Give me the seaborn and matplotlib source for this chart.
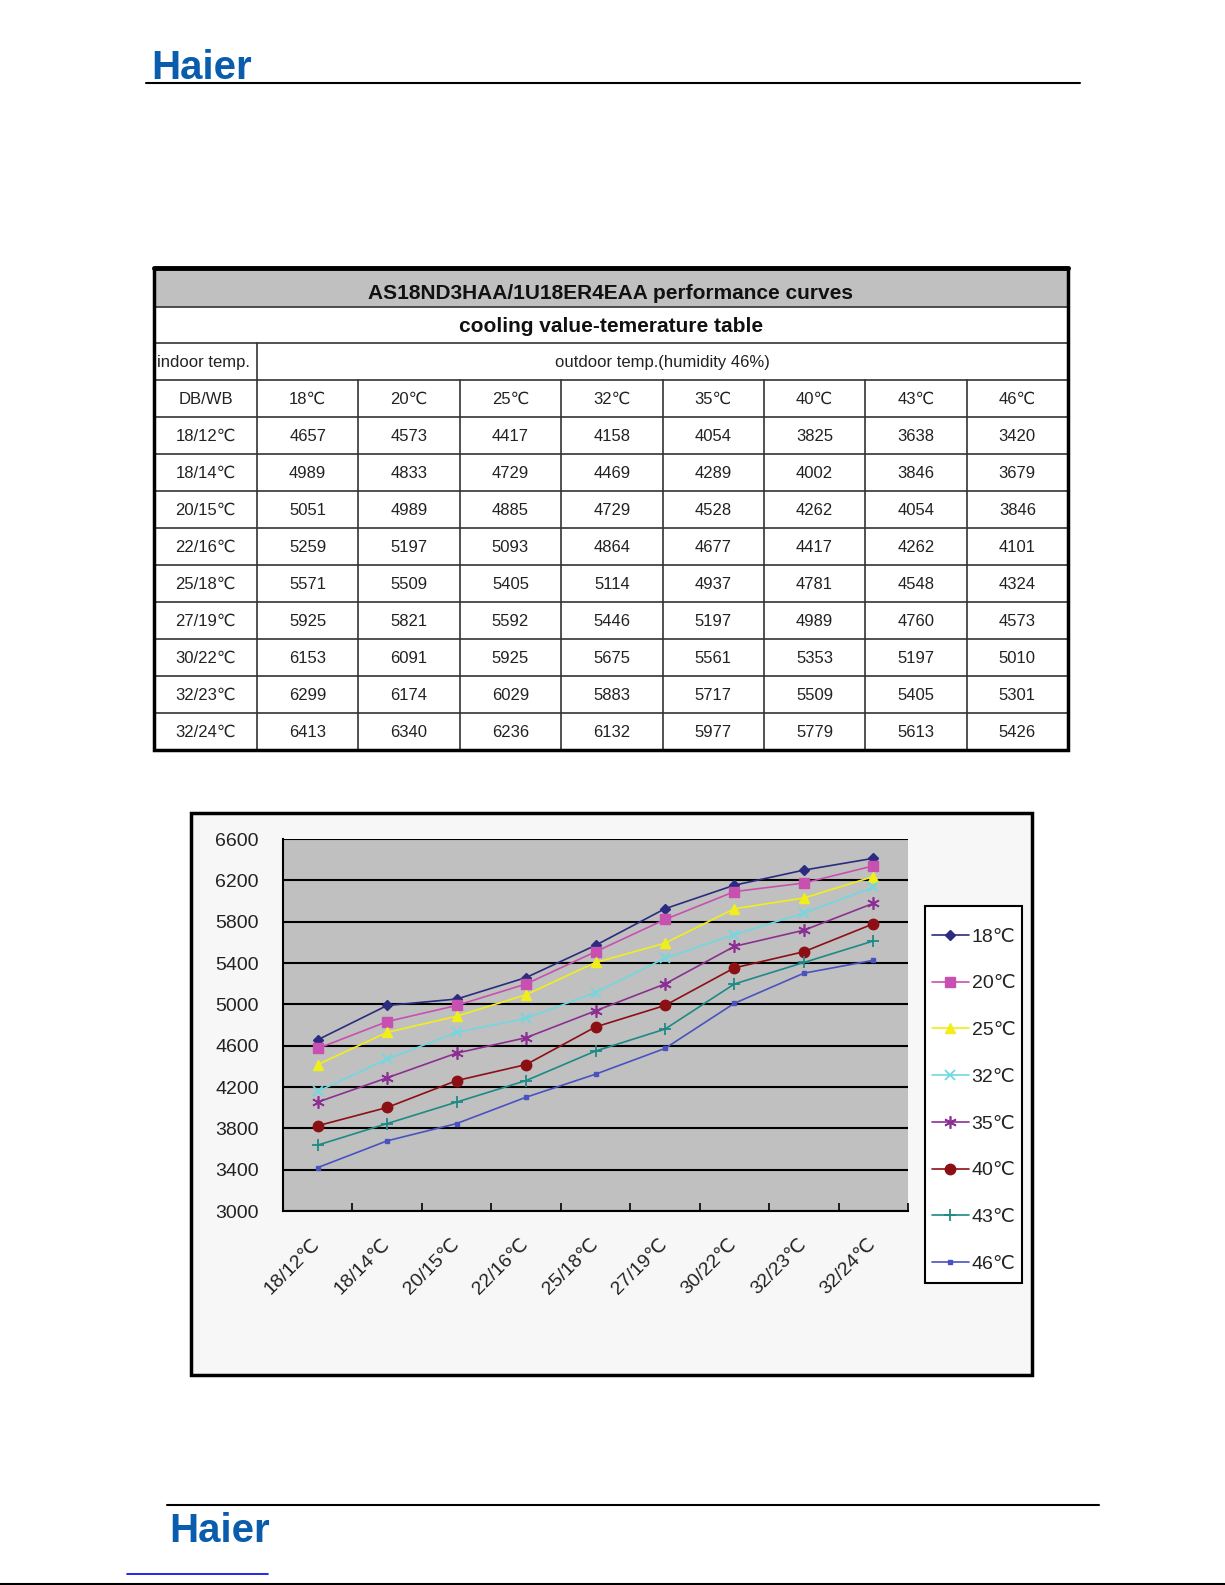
import matplotlib
matplotlib.use("Agg")
import matplotlib.pyplot as plt
import numpy as np
import pandas as pd
import seaborn as sns
from matplotlib.lines import Line2D
from matplotlib.patches import Rectangle

# ---------------- data ----------------
indoor = ['18/12℃', '18/14℃', '20/15℃', '22/16℃', '25/18℃',
          '27/19℃', '30/22℃', '32/23℃', '32/24℃']
outdoor = ['18℃', '20℃', '25℃', '32℃', '35℃', '40℃', '43℃', '46℃']
cap_18 = [4657, 4989, 5051, 5259, 5571, 5925, 6153, 6299, 6413]
cap_20 = [4573, 4833, 4989, 5197, 5509, 5821, 6091, 6174, 6340]
cap_25 = [4417, 4729, 4885, 5093, 5405, 5592, 5925, 6029, 6236]
cap_32 = [4158, 4469, 4729, 4864, 5114, 5446, 5675, 5883, 6132]
cap_35 = [4054, 4289, 4528, 4677, 4937, 5197, 5561, 5717, 5977]
cap_40 = [3825, 4002, 4262, 4417, 4781, 4989, 5353, 5509, 5779]
cap_43 = [3638, 3846, 4054, 4262, 4548, 4760, 5197, 5405, 5613]
cap_46 = [3420, 3679, 3846, 4101, 4324, 4573, 5010, 5301, 5426]
y_ticks = [3000, 3400, 3800, 4200, 4600, 5000, 5400, 5800, 6200, 6600]

table_title = 'AS18ND3HAA/1U18ER4EAA performance curves'
table_subtitle = 'cooling value-temerature table'
indoor_head = 'indoor temp.'
outdoor_head = 'outdoor temp.(humidity 46%)'
dbwb_head = 'DB/WB'
logo_text = 'Haier'

series = [cap_18, cap_20, cap_25, cap_32, cap_35, cap_40, cap_43, cap_46]

# ---------------- styles ----------------
colors = ['#2b2b80', '#c850b0', '#f2ee1a', '#70d8e0',
          '#8c2f92', '#8c0f14', '#1d8a86', '#4a52c0']
markers = ['D', 's', '^', 'x', (6, 2, 0), 'o', '+', 's']
msizes = [5.5, 7, 7.5, 7, 9, 7.5, 8, 3]
mews = [1, 1, 1, 1.3, 1.2, 1, 1.3, 1]

sns.set_theme(style='white')
plt.rcParams['font.family'] = ['Liberation Sans', 'DejaVu Sans']

W, H = 1225, 1585
fig = plt.figure(figsize=(W / 100, H / 100), dpi=100)
fig.patch.set_facecolor('white')

# page layer in pixel coordinates
pg = fig.add_axes([0, 0, 1, 1])
pg.set_xlim(0, W)
pg.set_ylim(H, 0)
pg.axis('off')

BLUE = '#0a5cac'
TXT = '#222222'

# header / footer
pg.text(151, 79, logo_text, color=BLUE, fontsize=29, fontweight='bold',
        va='baseline', ha='left')
pg.plot([146, 1080], [83, 83], color='black', lw=1.5)
pg.plot([167, 1099], [1505, 1505], color='black', lw=1.5)
pg.text(169, 1542, logo_text, color=BLUE, fontsize=29, fontweight='bold',
        va='baseline', ha='left')
pg.plot([127, 268], [1574, 1574], color='#0000ee', lw=1.2)
pg.plot([0, W], [1584, 1584], color='black', lw=1.5)

# ---------------- table ----------------
tx0, tx1 = 154, 1068
c1 = 257
ncol = len(outdoor)
cw = (tx1 - c1) / ncol
col_edges = [tx0, c1] + [c1 + cw * (j + 1) for j in range(ncol)]
rh = 37
row_edges = [268, 307, 343, 380] + [380 + rh * (i + 1) for i in range(len(indoor) + 1)]
ty1 = row_edges[-1]

pg.add_patch(Rectangle((tx0, row_edges[0]), tx1 - tx0, row_edges[1] - row_edges[0],
                       facecolor='#c0c0c0', edgecolor='none', zorder=1))
for y in row_edges[1:-1]:
    pg.plot([tx0, tx1], [y, y], color='#333333', lw=1.2, zorder=2)
pg.plot([c1, c1], [row_edges[2], ty1], color='#333333', lw=1.2, zorder=2)
for x in col_edges[2:-1]:
    pg.plot([x, x], [row_edges[3], ty1], color='#333333', lw=1.2, zorder=2)
pg.add_patch(Rectangle((tx0, row_edges[0]), tx1 - tx0, ty1 - row_edges[0],
                       facecolor='none', edgecolor='black', lw=2.5, zorder=3))
pg.plot([tx0, tx1], [row_edges[0], row_edges[0]], color='black', lw=3.5, zorder=3)

def rc(i):
    return (row_edges[i] + row_edges[i + 1]) / 2 + 1

pg.text((tx0 + tx1) / 2, rc(0) + 5, table_title, fontsize=15, fontweight='bold',
        ha='center', va='center', color='#111111')
pg.text((tx0 + tx1) / 2, rc(1), table_subtitle, fontsize=15, fontweight='bold',
        ha='center', va='center', color='#111111')
pg.text(tx0 + 3, rc(2), indoor_head, fontsize=12, ha='left', va='center', color=TXT)
pg.text((c1 + tx1) / 2, rc(2), outdoor_head, fontsize=12, ha='center', va='center', color=TXT)
pg.text((tx0 + c1) / 2, rc(3), dbwb_head, fontsize=12, ha='center', va='center', color=TXT)
for j, name in enumerate(outdoor):
    pg.text((col_edges[j + 1] + col_edges[j + 2]) / 2, rc(3), name, fontsize=12,
            ha='center', va='center', color=TXT)
for i, lab in enumerate(indoor):
    pg.text((tx0 + c1) / 2, rc(4 + i), lab, fontsize=12, ha='center', va='center', color=TXT)
    for j, vals in enumerate(series):
        pg.text((col_edges[j + 1] + col_edges[j + 2]) / 2, rc(4 + i), str(vals[i]),
                fontsize=12, ha='center', va='center', color=TXT)

# ---------------- chart frame ----------------
pg.add_patch(Rectangle((191, 813), 1032 - 191, 1375 - 813, facecolor='#f7f7f7',
                       edgecolor='black', lw=2.5, zorder=1))

rows = []
for name, vals in zip(outdoor, series):
    for lab, v in zip(indoor, vals):
        rows.append((lab, name, v))
df = pd.DataFrame(rows, columns=['indoor', 'outdoor', 'cooling'])

px0, px1, py0, py1 = 283, 908, 839, 1211
ax = fig.add_axes([px0 / W, 1 - py1 / H, (px1 - px0) / W, (py1 - py0) / H])
ax.set_facecolor('#c0c0c0')

sns.lineplot(data=df, x='indoor', y='cooling', hue='outdoor',
             hue_order=outdoor, palette=dict(zip(outdoor, colors)),
             marker='o', sort=False, errorbar=None, legend=False,
             linewidth=1.2, ax=ax)

handles = []
for line, col, mk, ms, mew in zip(ax.lines, colors, markers, msizes, mews):
    line.set_marker(mk)
    line.set_markersize(ms)
    line.set_markerfacecolor(col)
    line.set_markeredgecolor(col)
    line.set_markeredgewidth(mew)
    line.set_zorder(3)
    handles.append(Line2D([], [], color=col, lw=1.2, marker=mk,
                          ms=ms, mfc=col, mec=col, mew=mew))

ax.set_xlim(-0.5, len(indoor) - 0.5)
ax.set_ylim(y_ticks[0], y_ticks[-1])
ax.set_yticks(y_ticks)
ax.set_yticklabels([str(t) for t in y_ticks], fontsize=14, color=TXT)
ax.set_xticks(range(len(indoor)))
ax.set_xticklabels(indoor, fontsize=14, color=TXT, rotation=45, ha='right',
                   va='center', rotation_mode='anchor')
ax.set_xticks(np.arange(-0.5, len(indoor), 1.0), minor=True)
ax.tick_params(axis='x', which='major', length=0, pad=22)
ax.tick_params(axis='x', which='minor', length=6, width=1.2, direction='in',
               color='black', bottom=True)
ax.tick_params(axis='y', which='major', length=0, pad=17.5)
ax.set_xlabel('')
ax.set_ylabel('')
ax.yaxis.grid(True, color='black', lw=1.5)
ax.xaxis.grid(False)
ax.set_axisbelow(True)
for side in ['top', 'right']:
    ax.spines[side].set_visible(False)
for side in ['left', 'bottom']:
    ax.spines[side].set_visible(True)
    ax.spines[side].set_color('black')
    ax.spines[side].set_linewidth(1.5)

# legend box
lx0, lx1, ly0, ly1 = 925, 1022, 906, 1283
pg.add_patch(Rectangle((lx0, ly0), lx1 - lx0, ly1 - ly0, facecolor='white',
                       edgecolor='black', lw=1.5, zorder=2))
fig.legend(handles, outdoor, loc='center',
           bbox_to_anchor=((lx0 + lx1) / 2 / W, 1 - ((ly0 + ly1) / 2 + 6) / H),
           bbox_transform=fig.transFigure, frameon=False, fontsize=14,
           handlelength=1.9, handletextpad=0.15, labelspacing=1.5,
           borderpad=0.2, labelcolor=TXT)

fig.savefig('out.png', dpi=100, facecolor='white')
